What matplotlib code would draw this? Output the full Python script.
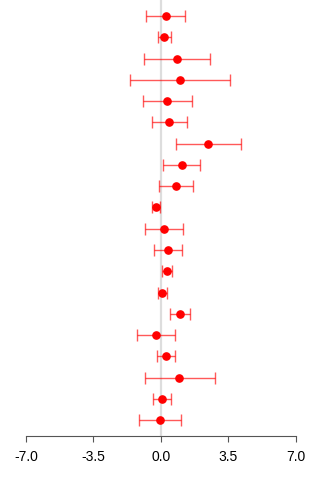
import matplotlib
matplotlib.use('Agg')
import matplotlib.pyplot as plt
import numpy as np

plt.rcParams['font.family'] = ['Liberation Sans', 'DejaVu Sans']

# point estimates with lower / upper interval bounds, top row first
est = [0.24, 0.16, 0.85, 0.98, 0.33, 0.43, 2.45, 1.07, 0.78, -0.27,
       0.17, 0.36, 0.31, 0.07, 0.98, -0.24, 0.26, 0.93, 0.05, -0.07]
lower = [-0.76, -0.17, -0.87, -1.58, -0.95, -0.47, 0.78, 0.12, -0.09, -0.48,
         -0.81, -0.36, 0.05, -0.16, 0.45, -1.22, -0.22, -0.85, -0.41, -1.14]
upper = [1.24, 0.50, 2.56, 3.56, 1.61, 1.33, 4.15, 2.03, 1.66, -0.05,
         1.12, 1.07, 0.57, 0.31, 1.49, 0.74, 0.74, 2.80, 0.52, 1.02]
xticks = [-7.0, -3.5, 0.0, 3.5, 7.0]

est = np.array(est)
lower = np.array(lower)
upper = np.array(upper)
rows = np.arange(1, len(est) + 1)

fig = plt.figure(figsize=(3.2, 4.8), dpi=100)
ax = fig.add_axes([0.081, 0.0917, 0.844, 0.9083])

ax.axvline(0, color='#dddddd', lw=1.6, zorder=0)

ax.errorbar(est, rows, xerr=[est - lower, upper - est], fmt='none',
            ecolor='red', elinewidth=1, capsize=4.5, capthick=1, alpha=0.65)
ax.plot(est, rows, 'o', color='red', markersize=5.2, zorder=3)

ax.set_xlim(-7, 7)
ax.set_ylim(20.74, 0.25)
ax.set_xticks(xticks)
ax.set_xticklabels(['%.1f' % t for t in xticks], fontsize=10)
ax.set_yticks([])

for s in ['top', 'right', 'left']:
    ax.spines[s].set_visible(False)
ax.spines['bottom'].set_color('#555555')
ax.tick_params(axis='x', colors='#555555', length=4, pad=6, labelcolor='black')

fig.savefig('out.png', dpi=100)
